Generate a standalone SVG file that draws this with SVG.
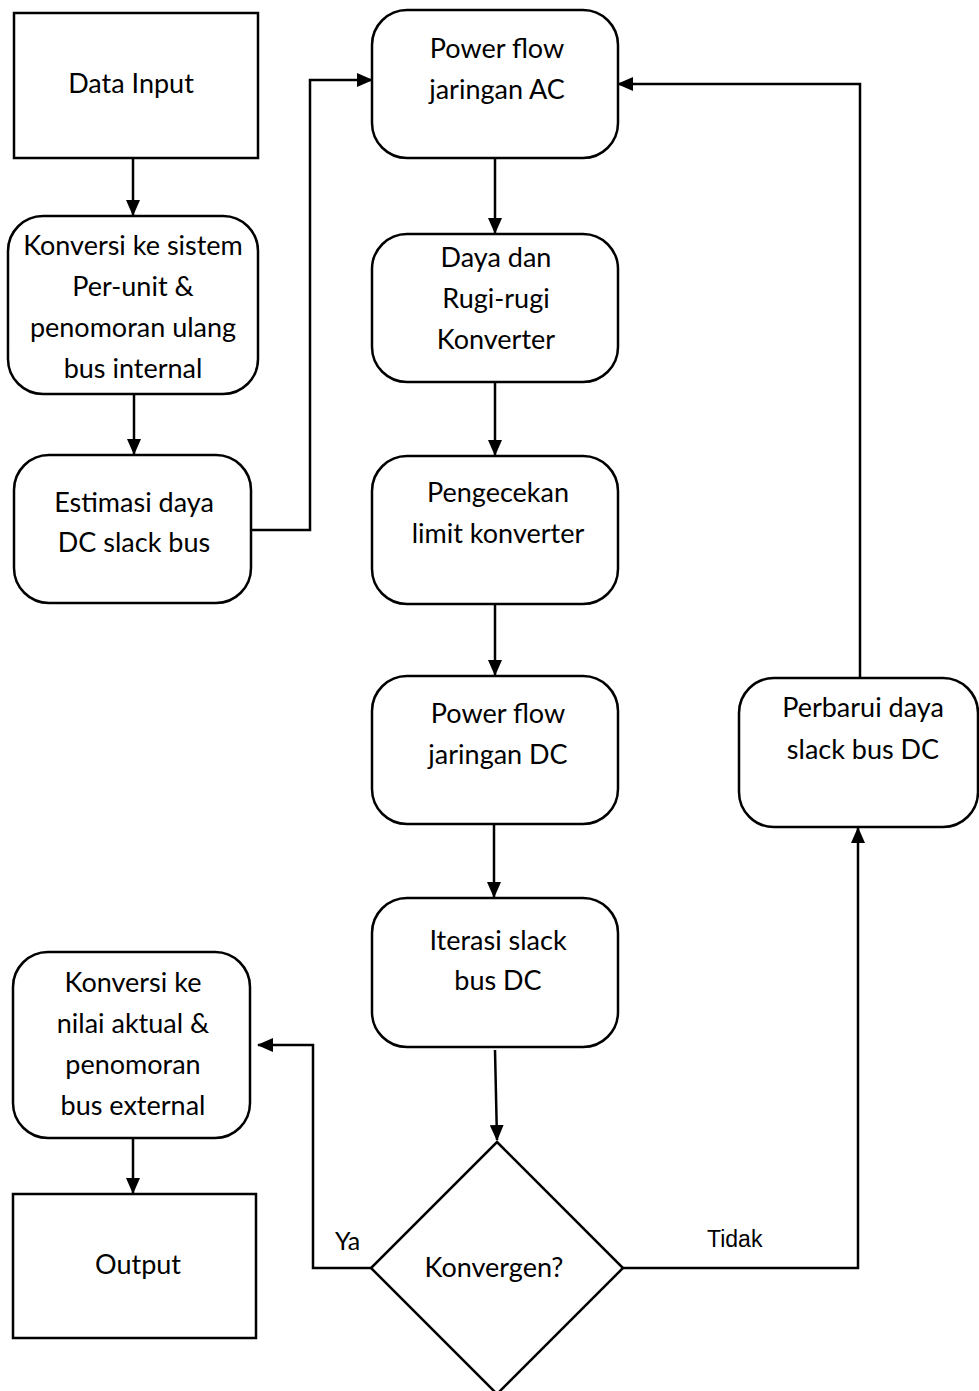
<svg xmlns="http://www.w3.org/2000/svg" width="979" height="1391" viewBox="0 0 979 1391">
<defs>
<style>
.n{fill:#fff;stroke:#000;stroke-width:2.5}
.t{font-family:Lato,"Open Sans","Liberation Sans",sans-serif;font-size:27px;fill:#000;text-anchor:middle}
.ya{font-family:Lato,"Open Sans","Liberation Sans",sans-serif;font-size:25px;fill:#000}
.l{font-family:"Liberation Sans",Arial,sans-serif;font-size:23px;fill:#000}
.c{fill:none;stroke:#000;stroke-width:2.5}
</style>
<marker id="ah" markerWidth="16" markerHeight="14" refX="15" refY="7" orient="auto" markerUnits="userSpaceOnUse">
<path d="M0,0 L16,7 L0,14 Z" fill="#000"/>
</marker>
</defs>
<rect width="979" height="1391" fill="#fff"/>
<g id="connectors">
<line class="c" x1="133" y1="158" x2="133" y2="215" marker-end="url(#ah)"/>
<line class="c" x1="134" y1="394" x2="134" y2="454" marker-end="url(#ah)"/>
<polyline class="c" points="251,530 310,530 310,80 372,80" marker-end="url(#ah)"/>
<line class="c" x1="495" y1="158" x2="495" y2="233" marker-end="url(#ah)"/>
<line class="c" x1="495" y1="383" x2="495" y2="455" marker-end="url(#ah)"/>
<line class="c" x1="495" y1="604" x2="495" y2="675" marker-end="url(#ah)"/>
<line class="c" x1="494" y1="825" x2="494" y2="897" marker-end="url(#ah)"/>
<line class="c" x1="495" y1="1050" x2="497" y2="1140" marker-end="url(#ah)"/>
<polyline class="c" points="371,1268 313,1268 313,1045 258,1045" marker-end="url(#ah)"/>
<polyline class="c" points="623,1268 858,1268 858,828" marker-end="url(#ah)"/>
<polyline class="c" points="860,678 860,84 618,84" marker-end="url(#ah)"/>
<line class="c" x1="133" y1="1138" x2="133" y2="1193" marker-end="url(#ah)"/>
<text class="ya" x="335" y="1250">Ya</text>
<text class="l" x="707" y="1247">Tidak</text>
</g>
<g id="data-input">
<rect class="n" x="14" y="13" width="244" height="145"/>
<text class="t" x="131" y="93">Data Input</text>
</g>
<g id="konversi-pu">
<rect class="n" x="8" y="216" width="250" height="178" rx="35"/>
<text class="t" x="133" y="255">Konversi ke sistem</text>
<text class="t" x="133" y="296">Per-unit &amp;</text>
<text class="t" x="133" y="337">penomoran ulang</text>
<text class="t" x="133" y="378">bus internal</text>
</g>
<g id="estimasi">
<rect class="n" x="14" y="455" width="237" height="148" rx="35"/>
<text class="t" x="134" y="512">Estimasi daya</text>
<text class="t" x="134" y="552">DC slack bus</text>
</g>
<g id="pf-ac">
<rect class="n" x="372" y="10" width="246" height="148" rx="35"/>
<text class="t" x="497" y="58">Power flow</text>
<text class="t" x="497" y="99">jaringan AC</text>
</g>
<g id="daya-rugi">
<rect class="n" x="372" y="234" width="246" height="148" rx="35"/>
<text class="t" x="496" y="267">Daya dan</text>
<text class="t" x="496" y="308">Rugi-rugi</text>
<text class="t" x="496" y="349">Konverter</text>
</g>
<g id="pengecekan">
<rect class="n" x="372" y="456" width="246" height="148" rx="35"/>
<text class="t" x="498" y="502">Pengecekan</text>
<text class="t" x="498" y="543">limit konverter</text>
</g>
<g id="pf-dc">
<rect class="n" x="372" y="676" width="246" height="148" rx="35"/>
<text class="t" x="498" y="723">Power flow</text>
<text class="t" x="498" y="764">jaringan DC</text>
</g>
<g id="iterasi">
<rect class="n" x="372" y="898" width="246" height="149" rx="35"/>
<text class="t" x="498" y="950">Iterasi slack</text>
<text class="t" x="498" y="990">bus DC</text>
</g>
<g id="konvergen">
<polygon class="n" points="497,1142 623,1268 497,1394 371,1268"/>
<text class="t" x="494" y="1277">Konvergen?</text>
</g>
<g id="perbarui">
<rect class="n" x="739" y="678" width="239" height="149" rx="35"/>
<text class="t" x="863" y="717">Perbarui daya</text>
<text class="t" x="863" y="759">slack bus DC</text>
</g>
<g id="konversi-aktual">
<rect class="n" x="13" y="952" width="237" height="186" rx="35"/>
<text class="t" x="133" y="992">Konversi ke</text>
<text class="t" x="133" y="1033">nilai aktual &amp;</text>
<text class="t" x="133" y="1074">penomoran</text>
<text class="t" x="133" y="1115">bus external</text>
</g>
<g id="output">
<rect class="n" x="13" y="1194" width="243" height="144"/>
<text class="t" x="138" y="1274">Output</text>
</g>
</svg>
